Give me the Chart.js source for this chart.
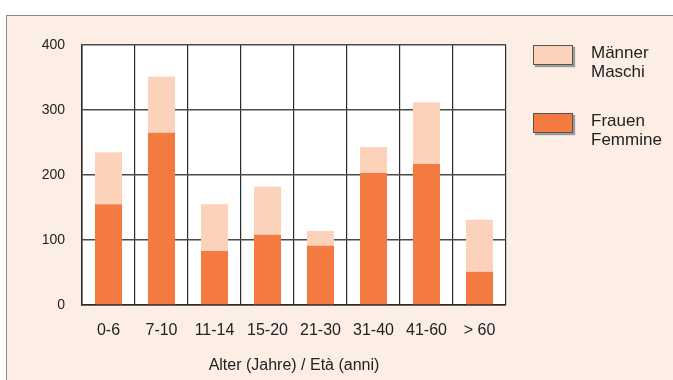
<!DOCTYPE html>
<html>
<head>
<meta charset="utf-8">
<script src="https://cdn.jsdelivr.net/npm/chart.js@4"></script>
<style>
  html, body { margin: 0; padding: 0; background: #fff; }
  body { width: 673px; height: 380px; position: relative; overflow: hidden; font-family: "Liberation Sans", Arial, sans-serif; }
  .panel { position: absolute; left: 6px; top: 15px; width: 700px; height: 400px; background: #fdeee5; border: 1px solid #8a8a8a; }
  .chart-box { position: absolute; left: 0; top: 0; width: 673px; height: 380px; }
  .legend { position: absolute; left: 533px; top: 45px; color: #222; font-size: 17px; line-height: 18.7px; }
  .legend .item { position: relative; height: 68px; }
  .legend .swatch { position: absolute; left: 0; top: 0; width: 38px; height: 18px; border: 1px solid #555; box-shadow: 2px 2px 1px #9a9a9a; }
  .legend .label { position: absolute; left: 58px; top: -1px; white-space: nowrap; }
</style>
</head>
<body>
<div class="panel"></div>
<div class="chart-box"><canvas id="chart" width="673" height="380"></canvas></div>
<div class="legend" id="legend"></div>
<script>
// age groups on the x axis
const categories = ['0-6', '7-10', '11-14', '15-20', '21-30', '31-40', '41-60', '> 60'];
// stacked series
const frauen = [155, 265, 83, 108, 91, 203, 217, 51];
const maenner = [80, 86, 72, 74, 23, 40, 95, 80];
const yTicks = [0, 100, 200, 300, 400];

const COLOR_FRAUEN = '#f37b41';
const COLOR_MAENNER = '#fcd3ba';

// legend drawn as html, top entry is the stacked top series
const legendItems = [
  { color: COLOR_MAENNER, lines: ['Männer', 'Maschi'] },
  { color: COLOR_FRAUEN, lines: ['Frauen', 'Femmine'] },
];
document.getElementById('legend').innerHTML = legendItems.map(item =>
  `<div class="item"><div class="swatch" style="background:${item.color}"></div>` +
  `<div class="label">${item.lines.join('<br>')}</div></div>`).join('');

// white plot area behind the bars
const plotBackground = {
  id: 'plotBackground',
  beforeDraw(chart) {
    const { ctx, chartArea: a } = chart;
    ctx.save();
    ctx.fillStyle = '#fff';
    ctx.fillRect(a.left, a.top, a.right - a.left, a.bottom - a.top);
    ctx.restore();
  },
};

const family = '"Liberation Sans", Arial, sans-serif';

new Chart(document.getElementById('chart'), {
  type: 'bar',
  data: {
    labels: categories,
    datasets: [
      { label: 'Frauen / Femmine', data: frauen, backgroundColor: COLOR_FRAUEN, categoryPercentage: 1, barPercentage: 0.51 },
      { label: 'Männer / Maschi', data: maenner, backgroundColor: COLOR_MAENNER, categoryPercentage: 1, barPercentage: 0.51 },
    ],
  },
  options: {
    responsive: false,
    animation: false,
    events: [],
    layout: { padding: { left: 0, top: 45, right: 167, bottom: 0 } },
    plugins: { legend: { display: false }, tooltip: { enabled: false } },
    scales: {
      x: {
        stacked: true,
        grid: { color: '#2a2a2a', lineWidth: 1.2, drawTicks: false, offset: true },
        border: { color: '#2a2a2a', width: 1.5 },
        ticks: { color: '#222', font: { family, size: 16 }, padding: 16 },
        title: { display: true, text: 'Alter (Jahre) / Età (anni)', color: '#222', font: { family, size: 16 }, padding: { top: 4, bottom: 5 } },
        afterFit(scale) { scale.height = 75; },
      },
      y: {
        stacked: true,
        min: 0,
        max: 400,
        afterBuildTicks(scale) { scale.ticks = yTicks.map(v => ({ value: v })); },
        grid: { color: '#4a4a4a', lineWidth: 1.5, drawTicks: false },
        border: { color: '#2a2a2a', width: 1.5 },
        ticks: { color: '#222', font: { family, size: 14 }, padding: 17 },
        afterFit(scale) { scale.width = 82; },
      },
    },
  },
  plugins: [plotBackground],
});
</script>
</body>
</html>
